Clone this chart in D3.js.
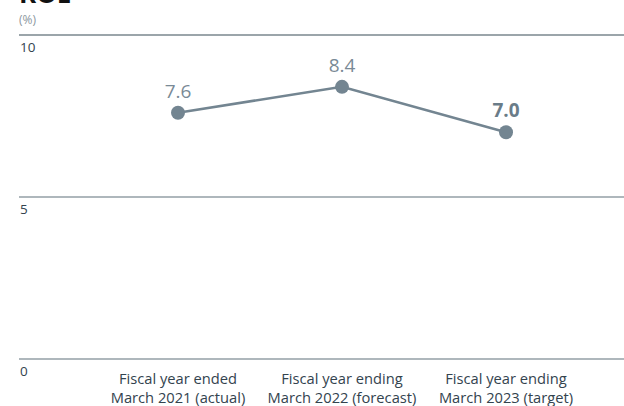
<!DOCTYPE html>
<html><head><meta charset="utf-8">
<script src="https://cdn.jsdelivr.net/npm/d3@7"></script>
<style>body{margin:0;background:#fff}svg{display:block}</style>
</head><body><svg id="c" width="624" height="406"></svg>
<script>
const categories = [["Fiscal year ended","March 2021 (actual)"],["Fiscal year ending","March 2022 (forecast)"],["Fiscal year ending","March 2023 (target)"]];
const values = [7.6, 8.4, 7.0];
const labels = ["7.6","8.4","7.0"];
const ticks = [0,5,10];

const svg = d3.select("#c");
const font = "'Open Sans', sans-serif";
const y = d3.scaleLinear().domain([0,10]).range([359,35]);
const x = d3.scalePoint().domain(d3.range(categories.length)).range([178,506]);

svg.append("text").attr("x",19).attr("y",3).attr("font-family",font).attr("font-weight",700)
  .attr("font-size",26).attr("fill","#111").text("ROE");
svg.append("text").attr("x",19).attr("y",24).attr("font-family",font).attr("font-size",12)
  .attr("fill","#8c979e").text("(%)");

ticks.forEach(t=>{
  svg.append("line").attr("x1",19).attr("x2",624).attr("y1",y(t)).attr("y2",y(t))
    .attr("stroke", t===10?"#9ba5aa":"#5f707a").attr("stroke-width", t===10?2:1.2);
  svg.append("text").attr("x",20).attr("y",y(t)+17).attr("font-family",font).attr("font-size",13.5)
    .attr("fill","#33434e").text(t);
});

const line = d3.line().x((d,i)=>x(i)).y(d=>y(d));
svg.append("path").datum(values).attr("d",line).attr("fill","none").attr("stroke","#738591").attr("stroke-width",2.6);
svg.selectAll("circle.p").data(values).join("circle").attr("cx",(d,i)=>x(i)).attr("cy",d=>y(d)).attr("r",7).attr("fill","#738591");

svg.selectAll("text.v").data(values).join("text").attr("class","v")
  .attr("x",(d,i)=>x(i)).attr("y",d=>y(d)-15).attr("text-anchor","middle")
  .attr("font-family",font).attr("font-size",19)
  .attr("font-weight",(d,i)=>i===2?700:400)
  .attr("fill",(d,i)=>i===2?"#6a7c88":"#7a8a96").text((d,i)=>labels[i]);

categories.forEach((c,i)=>{
  const t = svg.append("text").attr("text-anchor","middle").attr("font-family",font).attr("font-size",14.7).attr("fill","#33434e");
  c.forEach((s,j)=>t.append("tspan").attr("x",x(i)).attr("y",384+j*19).text(s));
});
</script></body></html>
